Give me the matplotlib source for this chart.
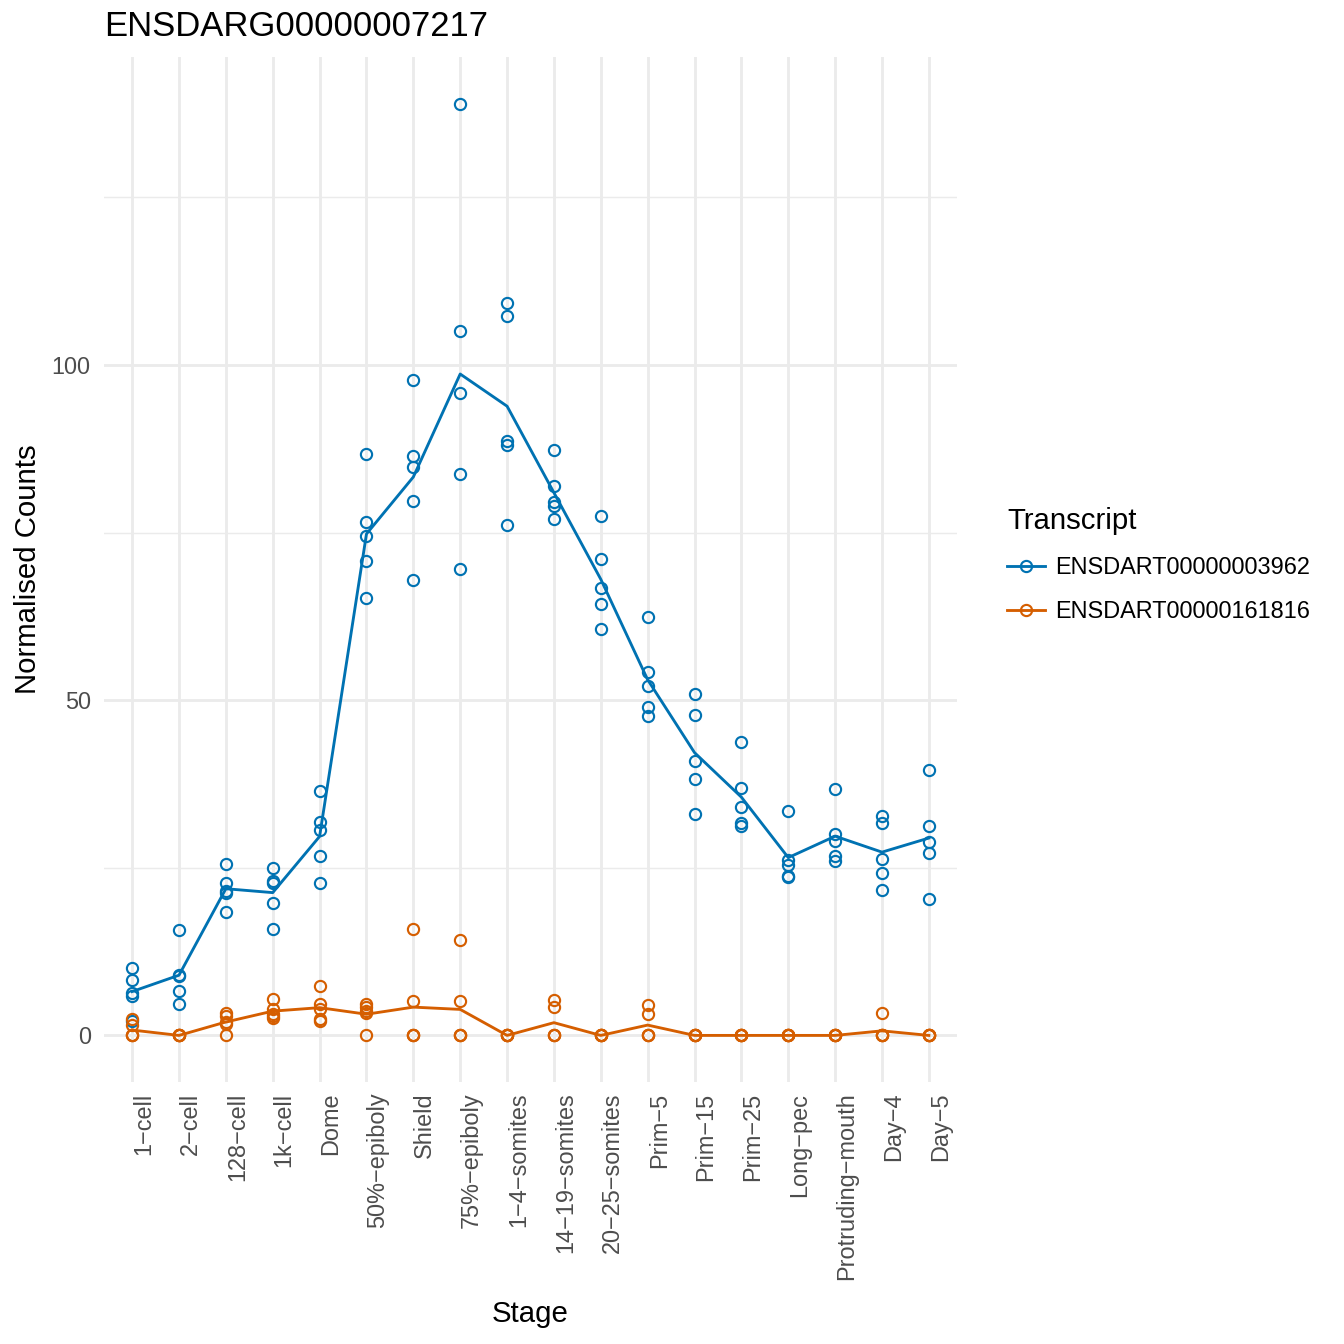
import numpy as np
import matplotlib
matplotlib.use("Agg")
import matplotlib.pyplot as plt
from matplotlib.lines import Line2D

plt.rcParams['font.family'] = ['Liberation Sans', 'DejaVu Sans']

# stages on the x axis
stages = ['1−cell', '2−cell', '128−cell', '1k−cell', 'Dome', '50%−epiboly', 'Shield',
          '75%−epiboly', '1−4−somites', '14−19−somites', '20−25−somites', 'Prim−5',
          'Prim−15', 'Prim−25', 'Long−pec', 'Protruding−mouth', 'Day−4', 'Day−5']

# replicate counts per stage, transcript ENSDART00000003962
tx1_counts = [
    [10.0, 8.3, 6.3, 5.9, 2.2],
    [15.7, 9.0, 8.9, 6.6, 4.7],
    [25.5, 22.8, 21.5, 21.2, 18.4],
    [24.9, 23.1, 22.8, 19.8, 15.9],
    [36.4, 31.9, 30.6, 26.7, 22.8],
    [86.8, 76.6, 74.5, 70.8, 65.3],
    [97.7, 86.4, 84.8, 79.7, 67.9],
    [139.0, 105.1, 95.8, 83.8, 69.6],
    [109.2, 107.3, 88.7, 88.0, 76.1],
    [87.3, 82.0, 79.6, 78.9, 77.0],
    [77.5, 71.0, 66.8, 64.3, 60.6],
    [62.4, 54.2, 52.1, 49.0, 47.6],
    [50.9, 47.8, 40.9, 38.3, 33.0],
    [43.7, 36.9, 34.1, 31.7, 31.3],
    [33.5, 26.2, 25.4, 23.8, 23.7],
    [36.8, 30.0, 29.0, 26.8, 26.0],
    [32.7, 31.7, 26.3, 24.3, 21.7],
    [39.6, 31.2, 28.9, 27.2, 20.3],
]

# replicate counts per stage, transcript ENSDART00000161816
tx2_counts = [
    [2.4, 1.6, 0, 0, 0],
    [0, 0, 0, 0, 0],
    [3.4, 2.9, 2.0, 1.7, 0],
    [5.4, 4.0, 3.2, 2.9, 2.6],
    [7.4, 4.7, 4.0, 2.5, 2.1],
    [4.7, 4.2, 3.6, 3.3, 0],
    [15.9, 5.2, 0, 0, 0],
    [14.2, 5.2, 0, 0, 0],
    [0, 0, 0, 0, 0],
    [5.3, 4.2, 0, 0, 0],
    [0, 0, 0, 0, 0],
    [4.5, 3.2, 0, 0, 0],
    [0, 0, 0, 0, 0],
    [0, 0, 0, 0, 0],
    [0, 0, 0, 0, 0],
    [0, 0, 0, 0, 0],
    [3.4, 0, 0, 0, 0],
    [0, 0, 0, 0, 0],
]

transcripts = ['ENSDART00000003962', 'ENSDART00000161816']
colours = ['#0072B2', '#D55E00']

fig = plt.figure(figsize=(7, 7), dpi=192)
ax = fig.add_axes([104/1344, 1 - 1082/1344, (957-104)/1344, (1082-57)/1344])

x = np.arange(len(stages))
for counts, col in zip([tx1_counts, tx2_counts], colours):
    arr = np.array(counts)
    xs = np.repeat(x, arr.shape[1])
    ax.plot(xs, arr.ravel(), linestyle='none', marker='o', markersize=4.2,
            markerfacecolor='none', markeredgecolor=col, markeredgewidth=0.8, zorder=3)
    ax.plot(x, arr.mean(axis=1), color=col, linewidth=1.07, zorder=3)

ax.set_xlim(-0.6, len(stages) - 1 + 0.6)
ax.set_ylim(-6.95, 145.95)
ax.set_xticks(x)
# rotated labels sit just right of the grid line, like ggplot's vjust
ax.set_xticklabels(stages, rotation=90, color='#4D4D4D', fontsize=8.8, ha='left')
ax.set_yticks([0, 50, 100])
ax.set_yticks([25, 75, 125], minor=True)
ax.tick_params(axis='y', which='major', labelcolor='#4D4D4D', labelsize=8.8, length=0, pad=5)
ax.tick_params(axis='x', length=0, pad=4)
ax.tick_params(axis='y', which='minor', length=0)

ax.grid(True, which='major', color='#EBEBEB', linewidth=1.07)
ax.grid(True, which='minor', axis='y', color='#EBEBEB', linewidth=0.53)
ax.set_axisbelow(True)
for s in ax.spines.values():
    s.set_visible(False)

ax.set_xlabel('Stage', fontsize=11, labelpad=7.5)
ax.set_ylabel('Normalised Counts', fontsize=11, labelpad=3.5)
ax.set_title('ENSDARG00000007217', fontsize=13.0, loc='left', pad=8)

handles = [Line2D([0], [0], color=c, linewidth=1.07, marker='o', markersize=4.2,
                  markerfacecolor='none', markeredgewidth=0.8) for c in colours]
leg = fig.legend(handles, transcripts, title='Transcript', loc='center left',
                 bbox_to_anchor=(986/1344, 1 - 565/1344), frameon=False,
                 fontsize=8.8, title_fontsize=11, handlelength=1.6,
                 handletextpad=0.45, labelspacing=0.9)
leg._legend_box.align = 'left'

fig.savefig('out.png', dpi=192, facecolor='white')
